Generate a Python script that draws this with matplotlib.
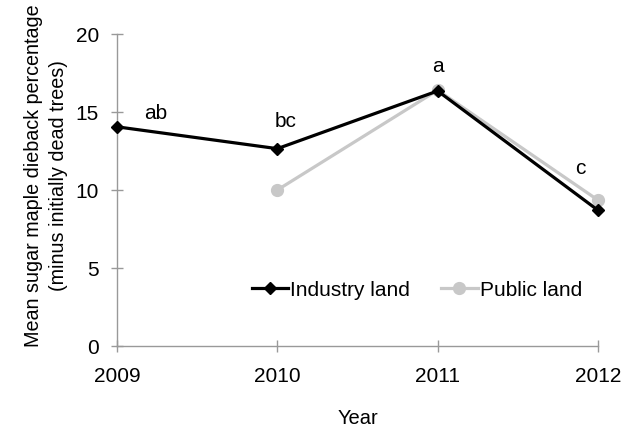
import matplotlib
matplotlib.use("Agg")
import matplotlib.pyplot as plt

years = [2009, 2010, 2011, 2012]
industry = [14.05, 12.65, 16.35, 8.7]
public_years = [2010, 2011, 2012]
public = [10.0, 16.4, 9.35]
letters = ["ab", "bc", "a", "c"]
letter_x = [2009.24, 2010.05, 2011.0, 2011.89]
letter_y = [14.9, 14.4, 17.9, 11.4]

plt.rcParams['font.family'] = ['Liberation Sans', 'DejaVu Sans']

fig = plt.figure(figsize=(6.22, 4.28), dpi=100)
W, H = 622, 428
ax = fig.add_axes([117 / W, 1 - 346 / H, (598 - 117) / W, (346 - 34) / H])

ax.plot(years, industry, color='black', lw=2.3, marker='D', ms=6,
        label='Industry land', zorder=3)
ax.plot(public_years, public, color='#c8c8c8', lw=2.3, marker='o', ms=8.5,
        label='Public land', zorder=2)

for t, x, y in zip(letters, letter_x, letter_y):
    ax.text(x, y, t, ha='center', va='center', fontsize=15)

ax.set_xlim(2009, 2012)
ax.set_ylim(0, 20)
ax.set_xticks(years)
ax.set_xticklabels([str(y) for y in years])
ax.set_yticks([0, 5, 10, 15, 20])

for s in ['top', 'right']:
    ax.spines[s].set_visible(False)
for s in ['left', 'bottom']:
    ax.spines[s].set_color('#999999')
    ax.spines[s].set_linewidth(1.0)
ax.tick_params(axis='both', direction='inout', length=8, width=1.0,
               color='#999999', labelsize=15, labelcolor='black')
ax.tick_params(axis='x', pad=11)
ax.tick_params(axis='y', pad=9)

ax.set_xlabel('Year', fontsize=14.5, labelpad=17)
ax.set_ylabel('Mean sugar maple dieback percentage\n(minus initially dead trees)',
              fontsize=14.2, linespacing=1.4)
ax.yaxis.set_label_coords(-(117 - 68) / 481, (346 - 176) / 312)

leg = ax.legend(loc='center right', bbox_to_anchor=((582 - 117) / 481, (346 - 290) / 312),
                ncol=2, frameon=False, fontsize=15, handlelength=1.75,
                handletextpad=0.1, columnspacing=1.5, borderaxespad=0, borderpad=0)
for line in ax.lines:
    line.set_clip_on(False)

fig.savefig('out.png', dpi=100)
